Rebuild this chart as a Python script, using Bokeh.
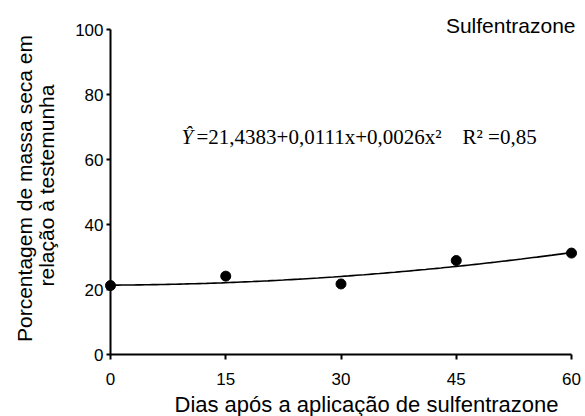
import numpy as np
from bokeh.plotting import figure
from bokeh.models import Range1d, Label, FixedTicker
from bokeh.embed import file_html
from bokeh.resources import INLINE

# Data
days = [0, 15, 30, 45, 60]
dry_mass_pct = [21.3, 24.2, 21.8, 29.0, 31.3]
# Fitted quadratic printed on the chart
coef_b0 = 21.4383
coef_b1 = 0.0111
coef_b2 = 0.0026
x_ticks = [0, 15, 30, 45, 60]
y_ticks = [0, 20, 40, 60, 80, 100]

title_text = "Sulfentrazone"
x_label = "Dias após a aplicação de sulfentrazone"
y_label_1 = "Porcentagem de massa seca em"
y_label_2 = "relação à testemunha"
eq_lhs = "Ŷ"
eq_rhs = "=21,4383+0,0111x+0,0026x²\u00a0\u00a0\u00a0\u00a0R²\u00a0=0,85"

# pixel layout of the chart area (x=0 -> 110px, x=60 -> 571px; y=0 -> 354.3px, y=100 -> 29.3px)
X0, XS = 110.0, 461.0 / 60
Y0, YS = 354.3, 3.25
W, H = 585, 416

def px2x(px):
    return (px - X0) / XS

def py2y(py):
    return (Y0 - py) / YS

p = figure(width=W, height=H, output_backend="svg", toolbar_location=None,
           x_range=Range1d(px2x(0), px2x(W)), y_range=Range1d(py2y(H), py2y(0)),
           min_border=0, min_border_left=0, min_border_right=0,
           min_border_top=0, min_border_bottom=0)
p.title.visible = False
p.outline_line_color = None
p.grid.visible = False
p.background_fill_color = "white"
p.border_fill_color = "white"

for ax in (p.xaxis[0], p.yaxis[0]):
    ax.axis_line_color = "black"
    ax.axis_line_width = 2
    ax.major_tick_line_color = "black"
    ax.major_tick_line_width = 2
    ax.major_tick_in = 0
    ax.minor_tick_line_color = None
    ax.major_label_text_font = "Liberation Sans"
    ax.major_label_text_font_size = "17px"
    ax.major_label_text_color = "black"
    ax.fixed_location = 0

p.xaxis[0].ticker = FixedTicker(ticks=x_ticks)
p.yaxis[0].ticker = FixedTicker(ticks=y_ticks)
p.xaxis[0].bounds = (0, 60)
p.yaxis[0].bounds = (0, 100)
p.xaxis[0].major_tick_out = 5
p.yaxis[0].major_tick_out = 4
p.xaxis[0].major_label_standoff = 13
p.yaxis[0].major_label_standoff = 3

xs = np.linspace(0, 60, 121)
ys = coef_b0 + coef_b1 * xs + coef_b2 * xs ** 2
p.line(xs, ys, line_color="black", line_width=1.6)
p.scatter(days, dry_mass_pct, size=10, color="black")

def add_text(px, py, text, font, size, align, angle=0.0, style="normal"):
    p.add_layout(Label(x=px2x(px), y=py2y(py), text=text, text_font=font,
                       text_font_size=size, text_align=align, text_baseline="alphabetic",
                       angle=angle, text_color="black", text_font_style=style))

add_text(575, 25.4, title_text, "Liberation Sans", "21px", "right")
add_text(366, 404.0, x_label, "Liberation Sans", "22px", "center")
add_text(188, 188, y_label_1, "Liberation Sans", "21px", "center", angle=np.pi / 2) if False else None

def add_vtext(px, py, text, size):
    # rotated text: shift baseline in screen x
    p.add_layout(Label(x=px2x(px), y=py2y(py), text=text, text_font="Liberation Sans",
                       text_font_size=size, text_align="center", text_baseline="alphabetic",
                       angle=np.pi / 2, text_color="black"))

add_vtext(24.4, 188, y_label_1, "21px")
add_vtext(46.0, 185, y_label_2, "21px")
add_text(181, 136.0, eq_lhs, "Liberation Serif", "21px", "left", style="italic")
add_text(196, 136.0, eq_rhs, "Liberation Serif", "21px", "left")

open("out.html", "w").write(file_html(p, INLINE))
